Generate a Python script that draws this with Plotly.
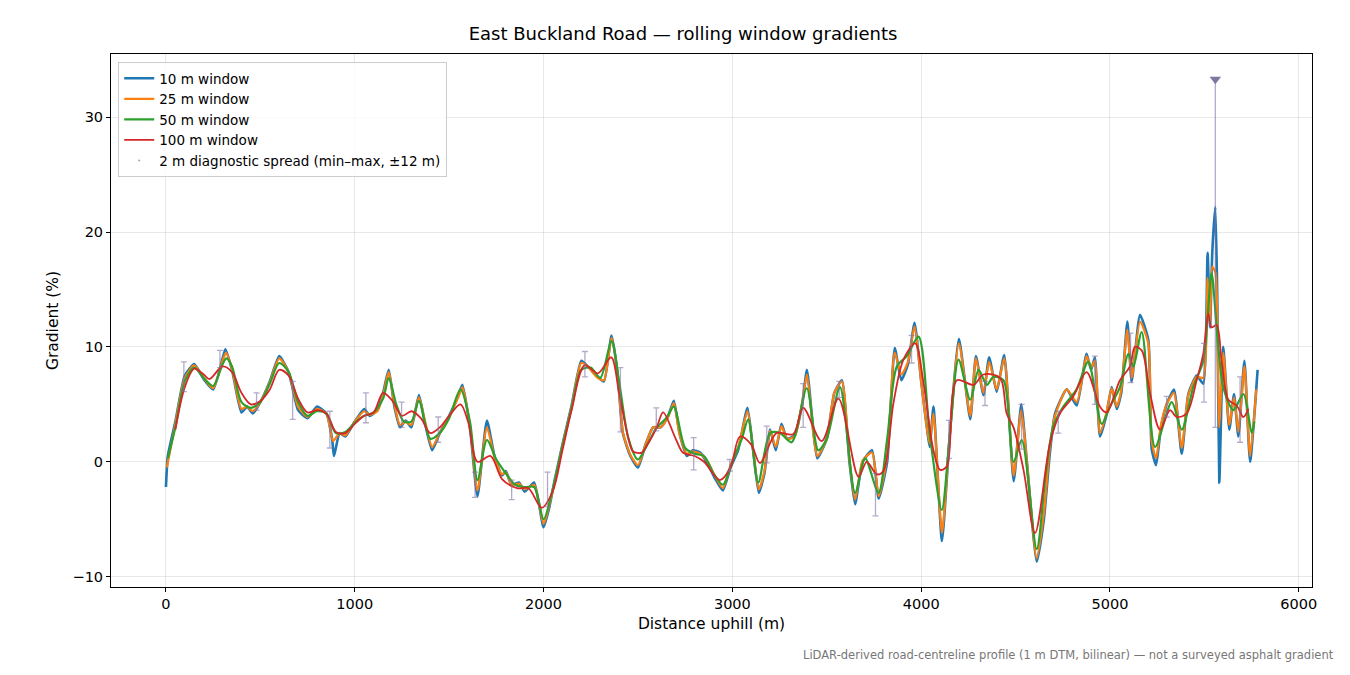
import plotly.graph_objects as go

x10 = [0,10,50,100,150,200,250,300,315,350,400,430,460,500,550,600,650,700,750,800,850,880,890,920,950,1000,1050,1080,1120,1150,1180,1210,1240,1270,1300,1340,1370,1410,1450,1500,1550,1570,1610,1650,1700,1740,1780,1800,1830,1870,1900,1950,2000,2030,2060,2100,2150,2200,2240,2280,2320,2360,2390,2420,2460,2500,2540,2580,2620,2660,2690,2720,2760,2790,2830,2870,2910,2950,2990,3030,3080,3110,3140,3170,3200,3230,3260,3290,3330,3370,3395,3430,3450,3500,3540,3580,3620,3650,3690,3740,3775,3820,3860,3895,3930,3965,4000,4030,4045,4065,4110,4150,4200,4260,4290,4330,4360,4400,4440,4490,4530,4560,4612,4650,4680,4709,4771,4824,4876,4900,4920,4947,4980,5009,5036,5060,5092,5115,5159,5203,5221,5244,5270,5300,5339,5380,5415,5459,5494,5517,5530,5542,5558,5568,5579,5600,5632,5657,5680,5712,5742,5782]
y10 = [-2.2,0.5,3.5,7.5,8.5,7.2,6.3,9.0,9.8,8.0,4.3,4.8,4.2,5.2,7.0,9.2,7.8,4.5,3.8,4.8,4.2,2.0,0.5,2.5,2.2,3.5,4.6,4.0,4.5,6.0,8.0,4.8,3.0,3.6,3.0,5.8,3.5,1.0,2.5,4.0,5.8,6.7,3.0,-3.0,3.6,0.5,-1.2,-0.8,-2.0,-1.8,-2.6,-1.8,-5.7,-4.0,-1.5,1.5,5.0,8.8,8.2,7.5,7.0,11.0,8.0,2.5,0.5,-0.5,1.5,3.0,3.0,4.0,5.3,2.5,0.5,1.0,0.8,-0.2,-1.5,-2.5,-0.5,1.0,4.7,1.0,-2.7,-1.0,2.8,1.0,3.3,2.0,2.3,5.0,8.0,2.5,0.3,2.0,6.0,7.1,0.0,-3.7,0.0,1.0,-3.2,0.0,9.9,7.1,8.5,12.1,7.0,3.0,1.3,4.8,-6.9,2.0,10.7,3.7,9.2,5.8,9.1,6.1,9.3,-1.7,5.0,0.0,-8.7,-5.0,0.5,4.2,6.3,4.9,9.4,8.0,9.1,2.2,4.0,6.5,4.6,6.0,12.2,7.0,12.8,10.6,1.1,-0.3,3.0,5.0,6.3,0.7,5.9,7.5,6.8,18.2,11.7,18.3,22.2,14.6,-1.8,10.0,2.8,5.9,2.2,8.8,0.0,8.0]

x25 = [5,50,100,150,200,250,300,318,350,400,430,460,500,550,600,650,700,750,800,850,885,920,950,1000,1050,1080,1120,1150,1180,1210,1240,1270,1300,1340,1370,1410,1450,1500,1550,1570,1610,1650,1700,1740,1780,1800,1830,1870,1900,1950,2000,2030,2060,2100,2150,2200,2240,2280,2320,2360,2390,2420,2460,2500,2540,2580,2620,2660,2690,2720,2760,2790,2830,2870,2910,2950,2990,3030,3080,3110,3140,3170,3200,3230,3260,3290,3330,3370,3395,3430,3450,3500,3540,3580,3620,3650,3690,3740,3775,3820,3860,3895,3930,3965,4000,4030,4045,4065,4110,4150,4200,4260,4290,4330,4360,4400,4440,4490,4530,4560,4612,4650,4680,4709,4771,4824,4876,4900,4920,4947,4980,5009,5036,5060,5092,5115,5159,5203,5221,5244,5270,5300,5339,5380,5415,5459,5494,5517,5530,5542,5558,5568,5579,5600,5632,5657,5680,5712,5742,5775]
y25 = [-0.5,3.3,7.3,8.4,7.3,6.4,8.8,9.5,8.1,4.6,4.8,4.4,5.2,6.9,9.0,7.8,4.8,3.9,4.6,4.2,1.8,2.5,2.3,3.5,4.4,4.1,4.4,5.8,7.8,5.0,3.2,3.5,3.2,5.6,3.7,1.3,2.5,3.9,5.7,6.5,3.2,-2.5,3.0,0.4,-1.1,-0.9,-2.0,-1.9,-2.4,-2.0,-5.4,-3.8,-1.7,1.4,4.9,8.6,8.2,7.4,7.1,10.8,8.0,2.6,0.6,-0.3,1.5,3.0,3.0,3.9,5.1,2.4,0.7,0.9,0.7,0.0,-1.3,-2.3,-0.3,1.2,4.4,1.0,-2.4,-0.8,2.7,1.3,3.1,2.0,2.2,5.2,7.6,2.3,0.5,2.0,6.0,7.0,0.2,-3.3,0.1,0.8,-3.0,0.5,9.5,7.6,8.7,11.8,7.0,3.0,1.6,4.2,-6.2,2.0,10.3,4.0,9.0,6.0,8.7,6.3,9.0,-1.2,4.5,0.0,-8.4,-4.5,1.0,4.0,6.3,5.2,9.2,8.2,8.8,2.5,4.2,6.4,4.8,6.3,11.5,7.3,12.2,10.3,1.8,0.3,3.2,5.0,6.0,1.2,5.8,7.4,7.3,16.0,12.0,17.0,16.5,13.0,3.0,9.5,3.2,5.6,2.6,8.3,0.5,6.3]

x50 = [10,50,100,150,200,250,300,320,350,400,450,500,550,600,650,700,750,800,850,900,950,1000,1050,1100,1150,1180,1220,1260,1300,1340,1400,1450,1500,1560,1610,1650,1700,1750,1800,1850,1900,1950,2000,2050,2100,2150,2200,2250,2300,2360,2400,2450,2500,2550,2600,2650,2690,2750,2800,2850,2900,2950,3000,3050,3084,3137,3200,3252,3314,3394,3455,3500,3570,3650,3703,3774,3820,3871,3924,3986,4047,4109,4150,4198,4260,4304,4348,4383,4436,4489,4533,4612,4660,4700,4753,4823,4885,4956,5000,5053,5097,5124,5168,5239,5327,5380,5441,5494,5538,5565,5600,5653,5707,5751,5765]
y50 = [0.3,3.0,7.0,8.2,7.3,6.6,8.5,9.0,8.3,5.2,4.7,5.2,6.8,8.6,7.8,5.2,4.0,4.4,4.2,2.5,2.6,3.4,4.0,4.3,5.5,7.3,5.0,3.5,3.5,5.3,2.0,2.5,3.8,6.3,3.5,-1.6,1.9,0.2,-1.0,-2.0,-2.2,-2.2,-5.0,-2.3,1.3,4.8,8.0,8.2,7.3,10.5,7.0,2.0,0.2,1.5,3.0,3.8,4.8,1.2,0.7,0.5,-1.0,-2.0,0.0,2.0,3.7,-1.8,2.5,2.5,1.7,6.4,1.0,2.0,6.5,-2.7,0.3,-2.7,2.0,8.3,9.2,10.9,2.2,-4.2,2.0,8.9,5.4,8.0,6.7,7.4,7.1,0.0,1.9,-7.6,-1.0,3.1,4.8,6.3,8.7,3.3,4.8,6.5,9.4,8.3,11.3,1.3,5.2,2.8,6.5,8.8,16.4,11.7,6.5,4.5,5.9,2.5,3.5]

x100 = [50,100,150,200,230,300,350,400,450,500,550,600,650,700,750,800,850,900,950,1000,1050,1100,1150,1200,1250,1300,1350,1400,1450,1500,1560,1600,1650,1720,1780,1860,1920,1990,2050,2100,2150,2217,2288,2358,2400,2450,2474,2520,2550,2600,2633,2700,2738,2800,2850,2934,2990,3040,3100,3146,3234,3322,3375,3473,3562,3668,3712,3765,3800,3853,3906,3968,4012,4065,4100,4136,4189,4277,4330,4418,4453,4489,4542,4603,4682,4735,4806,4876,4947,4982,5053,5106,5132,5168,5212,5265,5318,5353,5406,5459,5494,5521,5538,5565,5591,5627,5671,5707,5733]
y100 = [2.8,6.5,8.1,7.6,7.2,8.3,7.8,6.0,5.0,5.3,6.3,8.0,7.5,5.5,4.3,4.5,4.2,2.6,2.5,3.3,4.0,4.3,6.0,5.3,4.0,4.4,3.8,2.5,3.0,4.0,5.0,3.5,0.0,0.5,-1.5,-2.3,-2.3,-4.0,-2.5,1.0,4.6,8.4,7.7,9.1,6.0,2.0,0.9,0.8,1.5,3.0,4.3,2.0,0.8,0.5,0.0,-1.6,-0.5,2.2,1.5,-0.1,2.5,2.4,4.7,1.8,5.5,-1.3,0.0,-1.1,-0.8,5.1,8.9,10.3,6.9,1.0,-0.7,-0.4,7.1,6.7,7.6,7.3,4.2,3.0,-0.7,-6.2,1.6,4.2,5.7,7.8,4.8,4.3,7.1,8.3,10.0,9.7,6.0,2.8,4.5,3.9,4.2,7.1,9.4,12.9,11.7,11.9,8.8,5.4,4.9,3.9,4.6]

err_x = [95,286,480,671,868,1059,1248,1442,1637,1831,2021,2219,2407,2597,2795,2986,3182,3375,3566,3758,3949,4147,4338,4532,4726,4920,5109,5300,5498,5558,5689]
err_lo = [6.1,8.2,4.5,3.7,1.2,3.4,3.0,1.7,-3.1,-3.3,-3.9,7.4,2.6,2.7,-0.7,-0.8,-0.1,3.0,5.6,-4.7,8.6,0.3,4.9,1.1,2.5,5.0,6.9,3.9,5.2,3.0,1.7]
err_hi = [8.7,9.7,6.0,7.0,4.4,6.0,5.2,3.9,-0.9,-1.6,-0.9,9.6,8.2,4.7,2.1,0.2,3.1,6.8,7.0,-1.0,11.0,3.6,7.0,5.0,4.4,9.2,11.2,5.7,10.3,33.3,7.4]
clip_x = [5558]
clip_y = [33.3]

FONT = "DejaVu Sans"
fig = go.Figure()
series = [
    ("10 m window", x10, y10, "#1f77b4", 2.6, 0.5),
    ("25 m window", x25, y25, "#ff7f0e", 2.2, 0.6),
    ("50 m window", x50, y50, "#2ca02c", 2.2, 0.8),
    ("100 m window", x100, y100, "#d62728", 1.8, 0.9),
]
for name, xs, ys, col, w, sm in series:
    fig.add_trace(go.Scatter(x=xs, y=ys, name=name, mode="lines",
                             line=dict(color=col, width=w, shape="spline", smoothing=sm)))

mid = [(a + b) / 2 for a, b in zip(err_lo, err_hi)]
fig.add_trace(go.Scatter(
    x=err_x, y=mid, mode="markers", name="2 m diagnostic spread (min–max, ±12 m)",
    marker=dict(size=1, color="rgba(128,115,165,0.7)"),
    error_y=dict(type="data", symmetric=False,
                 array=[h - m for h, m in zip(err_hi, mid)],
                 arrayminus=[m - l for l, m in zip(err_lo, mid)],
                 color="rgba(128,115,165,0.6)", thickness=1.3, width=3)))
fig.add_trace(go.Scatter(x=clip_x, y=clip_y, mode="markers", showlegend=False,
                         marker=dict(symbol="triangle-down", size=10, color="#7f77a0")))

axis_common = dict(showline=True, linecolor="black", linewidth=1, mirror=True,
                   ticks="outside", ticklen=4, tickcolor="black",
                   showgrid=True, gridcolor="rgba(0,0,0,0.09)", zeroline=False,
                   tickfont=dict(size=14.5, color="black"))
fig.update_layout(
    width=1350, height=675, plot_bgcolor="white", paper_bgcolor="white",
    font=dict(family=FONT, color="black"),
    margin=dict(l=103, r=46, t=46, b=96),
    title=dict(text="East Buckland Road — rolling window gradients", x=0.5, xanchor="center",
               y=0.962, yanchor="middle", font=dict(size=18)),
    xaxis=dict(range=[-291, 6070], tickvals=[0,1000,2000,3000,4000,5000,6000],
               title=dict(text="Distance uphill (m)", font=dict(size=15.5), standoff=6), **axis_common),
    yaxis=dict(range=[-10.9, 35.5], tickvals=[-10,0,10,20,30],
               ticktext=["−10","0","10","20","30"],
               title=dict(text="Gradient (%)", font=dict(size=15.5), standoff=10), **axis_common),
    legend=dict(x=0.006, y=0.985, xanchor="left", yanchor="top", bgcolor="rgba(255,255,255,0.8)",
                bordercolor="#cccccc", borderwidth=1, font=dict(size=13.5), tracegroupgap=0),
    showlegend=True,
)
fig.add_annotation(text="LiDAR-derived road-centreline profile (1 m DTM, bilinear) — not a surveyed asphalt gradient",
                   xref="paper", yref="paper", x=1.0199, y=-0.127, xanchor="right", yanchor="middle",
                   showarrow=False, font=dict(size=11.5, color="#777777"))
fig.write_html("out.html")
